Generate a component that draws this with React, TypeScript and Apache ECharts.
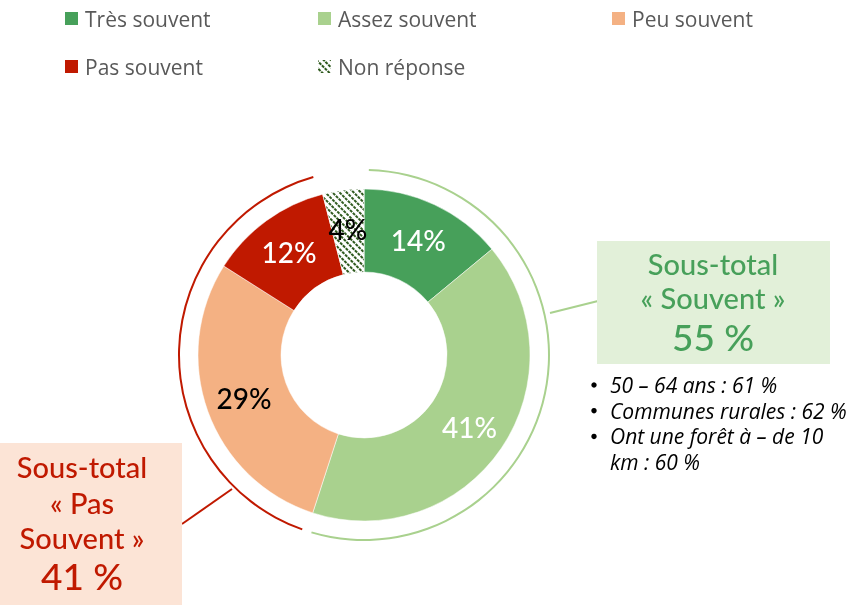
import React, { useEffect, useRef } from 'react';
import * as echarts from 'echarts';

const categories = ['Très souvent', 'Assez souvent', 'Peu souvent', 'Pas souvent', 'Non réponse'];
const values = [14, 41, 29, 12, 4];
const sliceColors = ['#47A05A', '#A9D18E', '#F4B183', '#C01900', '#FFFFFF'];
const labelColors = ['#FFFFFF', '#FFFFFF', '#000000', '#FFFFFF', '#000000'];
const souventIdx = [0, 1];
const pasSouventIdx = [2, 3];
const nonReponseIdx = [4];
const bulletLines = [
  { bullet: true, text: '50 – 64 ans : 61 %' },
  { bullet: true, text: 'Communes rurales : 62 %' },
  { bullet: true, text: 'Ont une forêt à – de 10' },
  { bullet: false, text: 'km : 60 %' },
];

const FONT = 'Lato, "Noto Sans", sans-serif';
const WIDE = '"Open Sans", "Noto Sans", sans-serif';
const GREEN = '#47A05A';
const RED = '#C01900';

const sum = (idx: number[]) => idx.reduce((s, i) => s + values[i], 0);

export default function App() {
  const ref = useRef<HTMLDivElement>(null);
  useEffect(() => {
    if (!ref.current) return;
    const chart = echarts.init(ref.current, undefined, { renderer: 'svg' });
    const souvent = sum(souventIdx);
    const pasSouvent = sum(pasSouventIdx);
    const nonRep = sum(nonReponseIdx);

    const legendPos = [
      { left: 63, top: 8 },
      { left: 316, top: 8 },
      { left: 610, top: 8 },
      { left: 63, top: 56 },
      { left: 316, top: 56 },
    ];

    const pieData = categories.map((name, i) => {
      const item: any = {
        name,
        value: values[i],
        itemStyle: { color: sliceColors[i] },
        label: { color: labelColors[i] },
      };
      if (i === 4) {
        item.itemStyle = {
          color: '#FFFFFF',
          decal: {
            symbol: 'rect',
            symbolSize: 1,
            color: '#2F5A1E',
            backgroundColor: '#FFFFFF',
            dashArrayX: [[2.5, 1]],
            dashArrayY: [1.5, 3],
            rotation: Math.PI / 4,
          },
        };
      }
      return item;
    });

    const bulletGraphics: any[] = [];
    bulletLines.forEach((l, i) => {
      const y = 385 + i * 25.7;
      if (l.bullet) {
        bulletGraphics.push({
          type: 'circle', shape: { cx: 594, cy: y, r: 2.7 }, style: { fill: '#000' },
        });
      }
      bulletGraphics.push({
        type: 'text', x: 610, y,
        style: { text: l.text, font: `italic 21px ${WIDE}`, fill: '#000', textVerticalAlign: 'middle' },
      });
    });

    const centerText = (x: number, y: number, text: string, size: number, color: string) => ({
      type: 'text', x, y,
      style: { text, font: `500 ${size}px ${FONT}`, fill: color, textAlign: 'center', textVerticalAlign: 'middle' },
    });

    chart.setOption({
      animation: false,
      legend: categories.map((name, i) => ({
        data: [name],
        left: legendPos[i].left,
        top: legendPos[i].top,
        padding: 0,
        icon: 'rect',
        itemWidth: 15,
        itemHeight: 15,
        itemGap: 0,
        selectedMode: false,
        textStyle: { fontFamily: WIDE, fontSize: 21, lineHeight: 15, color: '#595959', padding: [0, 0, 0, 1] },
      })),
      series: [
        {
          type: 'pie',
          center: [364, 355],
          radius: [83, 166],
          startAngle: 90,
          clockwise: true,
          silent: true,
          data: pieData,
          label: {
            show: true,
            position: 'inside',
            formatter: '{c}%',
            fontFamily: FONT,
            fontWeight: 500,
            fontSize: 28,
          },
          labelLine: { show: false },
          itemStyle: { borderColor: '#FFFFFF', borderWidth: 0.5 },
        },
        {
          type: 'pie',
          center: [364, 355],
          radius: [184, 186],
          startAngle: 90,
          clockwise: true,
          silent: true,
          padAngle: 3,
          label: { show: false },
          labelLine: { show: false },
          data: [
            { name: 'Souvent', value: souvent, itemStyle: { color: '#A9D18E' } },
            { name: 'Pas souvent total', value: pasSouvent, itemStyle: { color: RED } },
            { name: 'NR', value: nonRep, itemStyle: { color: 'rgba(0,0,0,0)' } },
          ],
        },
      ],
      graphic: [
        { type: 'line', shape: { x1: 550, y1: 313, x2: 598, y2: 301 }, style: { stroke: '#A9D18E', lineWidth: 2 } },
        { type: 'line', shape: { x1: 232, y1: 489, x2: 182, y2: 524 }, style: { stroke: RED, lineWidth: 2 } },
        { type: 'rect', shape: { x: 597, y: 241, width: 233, height: 123 }, style: { fill: '#E2F0D9' } },
        centerText(713, 263, 'Sous-total', 29, GREEN),
        centerText(713, 297, '« Souvent »', 29, GREEN),
        centerText(713, 336, `${souvent} %`, 37, GREEN),
        { type: 'rect', shape: { x: 0, y: 443, width: 182, height: 162 }, style: { fill: '#FCE4D6' } },
        centerText(82, 466, 'Sous-total', 29, RED),
        centerText(82, 502, '« Pas', 29, RED),
        centerText(82, 537, 'Souvent »', 29, RED),
        centerText(82, 575, `${pasSouvent} %`, 37, RED),
        ...bulletGraphics,
      ],
    });
    return () => chart.dispose();
  }, []);
  return <div ref={ref} style={{ position: 'fixed', left: 0, top: 0, width: 859, height: 605 }} />;
}
